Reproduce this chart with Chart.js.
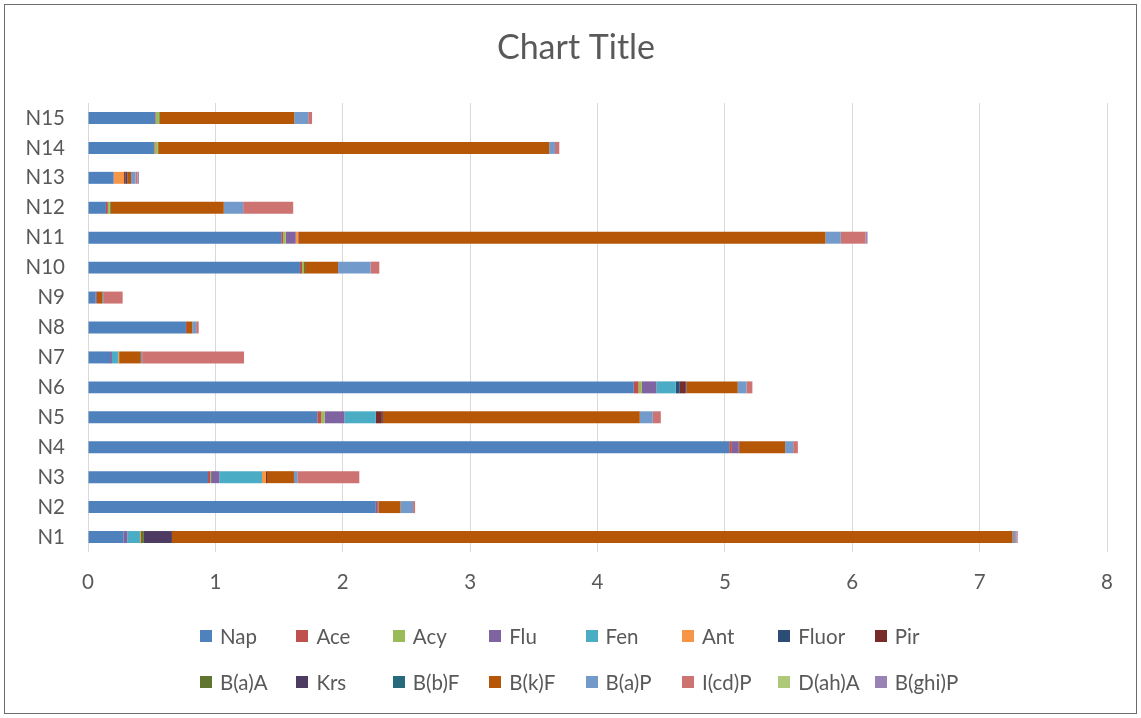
<!DOCTYPE html>
<html>
<head>
<meta charset="utf-8">
<script src="https://cdn.jsdelivr.net/npm/chart.js@4.4.0/dist/chart.umd.min.js"></script>
<style>
  body { margin: 0; background: #fff; font-family: Lato, "Liberation Sans", sans-serif; }
  #frame { position: absolute; left: 4px; top: 4px; width: 1131px; height: 708px; border: 1px solid #6d6d6d; }
  #wrap { position: absolute; left: 0; top: 0; width: 1141px; height: 718px; }
  #legend { position: absolute; left: 200px; top: 624px; display: grid;
    grid-template-columns: repeat(8, 96.4px); row-gap: 22px; }
  #legend .item { display: flex; align-items: center; height: 24px; font-size: 20.5px; color: #595959; white-space: nowrap; }
  #legend .box { width: 12px; height: 12px; margin-right: 8px; flex: none; }
</style>
</head>
<body>
<div id="frame"></div>
<div id="wrap"><canvas id="hbar" width="1141" height="718"></canvas></div>
<div id="legend"></div>
<script>
// categories, bottom to top like the original
const samples = ['N1','N2','N3','N4','N5','N6','N7','N8','N9','N10','N11','N12','N13','N14','N15'];
const xTicks = [0,1,2,3,4,5,6,7,8];

//           N1     N2     N3     N4     N5     N6     N7     N8     N9     N10    N11    N12    N13    N14    N15
const nap   = [0.277, 2.26,  0.942, 5.034, 1.80,  4.285, 0.173, 0.769, 0.057, 1.664, 1.517, 0.141, 0.20,  0.518, 0.527];
const ace   = [0,     0.01,  0.016, 0.021, 0.031, 0.037, 0,     0.008, 0,     0.016, 0.016, 0.015, 0.005, 0.005, 0.005];
const acy   = [0,     0,     0.008, 0,     0.026, 0.026, 0,     0,     0,     0.016, 0.02,  0.015, 0,     0.025, 0.025];
const flu   = [0.031, 0.01,  0.065, 0.052, 0.157, 0.115, 0.015, 0,     0.013, 0,     0.078, 0,     0,     0,     0];
const fen   = [0.10,  0,     0.335, 0,     0.246, 0.152, 0.047, 0,     0,     0,     0,     0,     0,     0,     0];
const ant   = [0.008, 0,     0.031, 0,     0,     0,     0.005, 0,     0,     0,     0.02,  0,     0.078, 0,     0];
const fluor = [0,     0,     0,     0,     0,     0.031, 0,     0,     0,     0,     0,     0,     0,     0,     0];
const pir   = [0,     0,     0.008, 0.008, 0.047, 0.042, 0,     0,     0,     0,     0.005, 0,     0.01,  0,     0];
const baa   = [0.023, 0,     0,     0,     0,     0,     0.005, 0,     0,     0.008, 0,     0.008, 0,     0.003, 0.005];
const krs   = [0.22,  0,     0,     0,     0.008, 0.01,  0,     0,     0,     0,     0,     0,     0.015, 0,     0];
const bbf   = [0,     0,     0,     0,     0,     0,     0,     0,     0,     0,     0,     0,     0,     0,     0];
const bkf   = [6.60,  0.173, 0.212, 0.358, 2.017, 0.403, 0.17,  0.042, 0.045, 0.259, 4.134, 0.887, 0.03,  3.07,  1.057];
const bap   = [0.02,  0.099, 0.026, 0.063, 0.102, 0.068, 0.01,  0.03,  0.01,  0.256, 0.12,  0.152, 0.035, 0.045, 0.11];
const icdp  = [0.01,  0.016, 0.487, 0.037, 0.063, 0.047, 0.80,  0.02,  0.147, 0.068, 0.194, 0.393, 0.015, 0.034, 0.03];
const daha  = [0,     0,     0,     0,     0,     0,     0,     0,     0,     0,     0,     0,     0,     0,     0];
const bghip = [0.01,  0,     0,     0,     0,     0,     0,     0,     0,     0,     0.016, 0,     0.012, 0,     0];

const seriesNames = ['Nap','Ace','Acy','Flu','Fen','Ant','Fluor','Pir','B(a)A','Krs','B(b)F','B(k)F','B(a)P','I(cd)P','D(ah)A','B(ghi)P'];
const seriesData = [nap, ace, acy, flu, fen, ant, fluor, pir, baa, krs, bbf, bkf, bap, icdp, daha, bghip];
const seriesColors = ['#4F81BD','#C0504D','#9BBB59','#8064A2','#4BACC6','#F79646','#2C4D75','#772C2A',
                      '#5F7530','#4D3B62','#276A7C','#B65708','#729ACA','#CD7371','#AFC97A','#9983B5'];

const grey = '#595959';

let datasets = seriesNames.map((name, i) => ({
  label: name,
  data: seriesData[i],
  backgroundColor: seriesColors[i],
  borderWidth: 0,
  barPercentage: 0.4,
  categoryPercentage: 1
}));

// centre the title on the frame, not on canvas-minus-right-padding
const titleShift = {
  id: 'titleShift',
  afterLayout(chart) {
    if (chart.titleBlock) chart.titleBlock.left += 45;
  }
};

let ctx = document.getElementById('hbar').getContext('2d');
let chart = new Chart(ctx, {
  type: 'bar',
  data: { labels: samples, datasets: datasets },
  plugins: [titleShift],
  options: {
    indexAxis: 'y',
    responsive: false,
    animation: false,
    layout: { padding: { left: 0, right: 34, top: 0, bottom: 0 } },
    plugins: {
      legend: { display: false },
      tooltip: { enabled: false },
      title: {
        display: true,
        text: 'Chart Title',
        color: grey,
        font: { family: 'Lato', size: 34, weight: 'normal' },
        padding: { top: 28, bottom: 34.2 }
      }
    },
    scales: {
      x: {
        stacked: true,
        min: 0,
        max: 8,
        afterBuildTicks: (s) => { s.ticks = xTicks.map(v => ({ value: v })); },
        afterFit: (s) => { s.height = 166; },
        ticks: { color: grey, padding: 18, font: { family: 'Lato', size: 20.5 } },
        grid: { color: '#d9d9d9', lineWidth: 1, drawTicks: false },
        border: { display: false }
      },
      y: {
        stacked: true,
        reverse: true,
        afterFit: (s) => { s.width = 88; },
        ticks: { color: grey, padding: 23, font: { family: 'Lato', size: 20.5 } },
        grid: { display: false, drawTicks: false },
        border: { display: false }
      }
    }
  }
});

// html legend in fixed columns like the original
let legendEl = document.getElementById('legend');
chart.data.datasets.forEach(ds => {
  let item = document.createElement('div');
  item.className = 'item';
  let box = document.createElement('span');
  box.className = 'box';
  box.style.background = ds.backgroundColor;
  item.appendChild(box);
  item.appendChild(document.createTextNode(ds.label));
  legendEl.appendChild(item);
});
</script>
</body>
</html>
